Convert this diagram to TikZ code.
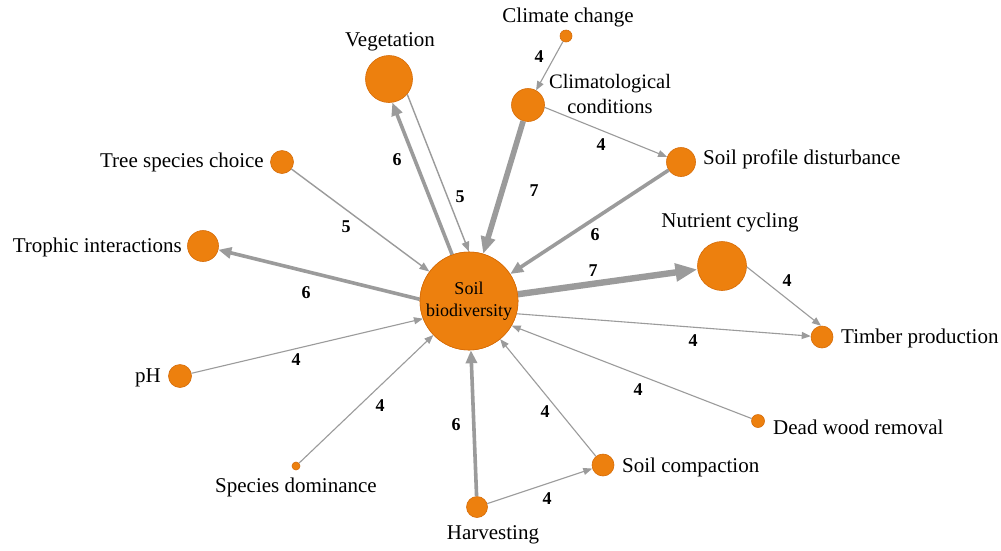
\documentclass[tikz,border=0pt]{standalone}
\usepackage{fontspec}
\setmainfont{Liberation Serif}
\usetikzlibrary{arrows.meta}
\definecolor{nodefill}{RGB}{237,128,14}
\definecolor{nodeline}{RGB}{214,108,8}
\definecolor{edgegray}{RGB}{155,155,155}
\begin{document}
\begin{tikzpicture}[x=1pt,y=-1pt,
  dot/.style={circle, fill=nodefill, draw=nodeline, line width=0.6pt,
              inner sep=0pt, minimum size=#1pt},
  nametext/.style={font=\fontsize{21}{23}\selectfont, inner sep=0pt},
  centretext/.style={font=\fontsize{18}{21.5}\selectfont, align=center},
  wt/.style={font=\bfseries\fontsize{18}{20}\selectfont, inner sep=0pt},
  wfour/.style={draw=edgegray, line width=1.1pt,
                -{Triangle[length=9pt,width=7pt]}},
  wfive/.style={draw=edgegray, line width=1.4pt,
                -{Triangle[length=10pt,width=7.5pt]}},
  wsix/.style={draw=edgegray, line width=3.6pt,
               -{Triangle[length=13pt,width=11pt]}},
  wseven/.style={draw=edgegray, line width=5.6pt,
                 -{Triangle[length=17pt,width=14pt]}},
  wsevenb/.style={draw=edgegray, line width=6.4pt,
                  -{Triangle[length=22pt,width=17pt]}}]
\useasboundingbox (0,0) rectangle (1001,550);
\fill[white] (0,0) rectangle (1001,550);

% nodes of the network
\node[dot=98] (sb)    at (469,301) {};
\node[dot=47] (veg)   at (389,79)  {};
\node[dot=12] (cc)    at (566,36)  {};
\node[dot=33] (clim)  at (528,105) {};
\node[dot=29] (spd)   at (681,162) {};
\node[dot=23] (tsc)   at (282,162) {};
\node[dot=31] (troph) at (203,246) {};
\node[dot=49] (nut)   at (722,266) {};
\node[dot=22] (timb)  at (822,337) {};
\node[dot=23] (ph)    at (180,376) {};
\node[dot=8]  (sd)    at (296,466) {};
\node[dot=13] (dw)    at (758,421) {};
\node[dot=22] (sc)    at (603,465) {};
\node[dot=21] (harv)  at (477,507) {};

% connectors, thickness by weight
\draw[wfour]   (cc) -- (clim);
\draw[wfour]   (clim.-8) -- (spd.160);
\draw[wseven]  (clim) -- (sb);
\draw[wsix]    (sb.110) -- (veg.-82);
\draw[wfive]   (veg.-40) -- (sb.90);
\draw[wfive]   (tsc) -- (sb);
\draw[wsix]    (spd) -- (sb);
\draw[wsevenb] (sb) -- (nut);
\draw[wfour]   (nut.-2) -- (timb.95);
\draw[wsix]    (sb.178) -- (troph);
\draw[wfour]   (sb.-15) -- (timb);
\draw[wfour]   (ph) -- (sb.201);
\draw[wfour]   (dw) -- (sb.-30);
\draw[wfour]   (sd) -- (sb);
\draw[wfour]   (sc) -- (sb);
\draw[wsix]    (harv) -- (sb);
\draw[wfour]   (harv) -- (sc);

% redraw the central node over the edge ends, with its text
\node[dot=98, centretext] (sbtext) at (469,301) {Soil\\biodiversity};

% node names
\node[nametext]            (tveg)   at (390,42)  {Vegetation};
\node[nametext]            (tcc)    at (568,17)  {Climate change};
\node[nametext, align=center, font=\fontsize{20.5}{25}\selectfont]
                           (tclim)  at (610,94)  {Climatological\\conditions};
\node[nametext, anchor=west] (tspd) at (703,159) {Soil profile disturbance};
\node[nametext, anchor=east] (ttsc) at (264,162) {Tree species choice};
\node[nametext, anchor=east] (ttro) at (182,247) {Trophic interactions};
\node[nametext]            (tnut)   at (730,222) {Nutrient cycling};
\node[nametext, anchor=west] (ttim) at (841,338) {Timber production};
\node[nametext, anchor=east] (tph)  at (161,378) {pH};
\node[nametext]            (tsd)    at (296,487) {Species dominance};
\node[nametext, anchor=west] (tdw)  at (773,427) {Dead wood removal};
\node[nametext, anchor=west] (tscp) at (622,467) {Soil compaction};
\node[nametext]            (tharv)  at (493,535) {Harvesting};

% edge weights
\node[wt] (w1)  at (539,57)  {4};
\node[wt] (w2)  at (601,145) {4};
\node[wt] (w3)  at (534,191) {7};
\node[wt] (w4)  at (397,160) {6};
\node[wt] (w5)  at (460,197) {5};
\node[wt] (w6)  at (346,227) {5};
\node[wt] (w7)  at (306,293) {6};
\node[wt] (w8)  at (595,235) {6};
\node[wt] (w9)  at (593,271) {7};
\node[wt] (w10) at (787,281) {4};
\node[wt] (w11) at (693,341) {4};
\node[wt] (w12) at (638,390) {4};
\node[wt] (w13) at (296,360) {4};
\node[wt] (w14) at (380,406) {4};
\node[wt] (w15) at (456,425) {6};
\node[wt] (w16) at (545,412) {4};
\node[wt] (w17) at (547,499) {4};
\end{tikzpicture}
\end{document}
